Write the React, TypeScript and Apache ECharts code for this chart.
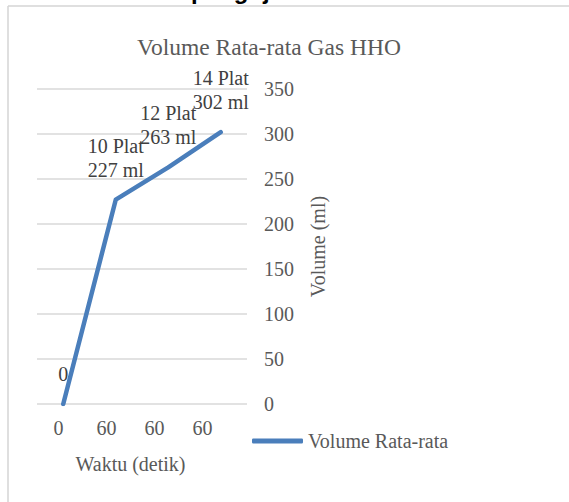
import React, { useEffect, useRef } from "react";
import * as echarts from "echarts";

const categories = ["0", "60", "60", "60"];
const volumes = [0, 227, 263, 302];
const plates: (number | null)[] = [null, 10, 12, 14];
const yTicks = { min: 0, max: 350, interval: 50 };

const SERIF = "Liberation Serif";
const GRAY = "#595959";

export default function App() {
  const ref = useRef<HTMLDivElement>(null);
  useEffect(() => {
    if (!ref.current) return;
    const chart = echarts.init(ref.current, null, { renderer: "svg" });
    chart.setOption({
      animation: false,
      backgroundColor: "#ffffff",
      textStyle: { fontFamily: SERIF },
      title: {
        text: "Volume Rata-rata Gas HHO",
        left: 132,
        top: 30,
        textStyle: { fontFamily: SERIF, fontSize: 23.5, fontWeight: "normal", color: GRAY },
      },
      legend: {
        data: ["Volume Rata-rata"],
        left: 252,
        top: 431,
        padding: 0,
        itemWidth: 51,
        itemHeight: 5,
        icon: "roundRect",
        textStyle: { fontFamily: SERIF, fontSize: 20, color: GRAY },
      },
      grid: [
        { left: 37, top: 89, width: 210, height: 315 },
        { left: 34.6, top: 89, width: 192, height: 315 },
      ],
      xAxis: [
        {
          type: "category",
          gridIndex: 0,
          data: categories,
          boundaryGap: true,
          axisLine: { show: false },
          axisTick: { show: false },
          axisLabel: { show: false },
        },
        {
          type: "category",
          gridIndex: 1,
          data: categories,
          boundaryGap: true,
          axisLine: { show: false },
          axisTick: { show: false },
          axisLabel: { show: true, margin: 14, fontFamily: SERIF, fontSize: 20, color: GRAY },
        },
      ],
      yAxis: [
        {
          type: "value",
          gridIndex: 0,
          position: "right",
          min: yTicks.min,
          max: yTicks.max,
          interval: yTicks.interval,
          axisLine: { show: false },
          axisTick: { show: false },
          splitLine: { lineStyle: { color: "#d9d9d9", width: 1.5 } },
          axisLabel: { margin: 17, fontFamily: SERIF, fontSize: 20, color: GRAY },
          name: "Volume (ml)",
          nameLocation: "middle",
          nameRotate: 90,
          nameGap: 61,
          nameTextStyle: { fontFamily: SERIF, fontSize: 20, color: GRAY },
        },
        { type: "value", gridIndex: 1, show: false, min: 0, max: 350 },
      ],
      series: [
        {
          name: "Volume Rata-rata",
          type: "line",
          xAxisIndex: 0,
          yAxisIndex: 0,
          data: volumes,
          symbol: "circle",
          symbolSize: 0.1,
          showSymbol: true,
          color: "#4a7ebb",
          itemStyle: { color: "#4a7ebb" },
          lineStyle: { color: "#4a7ebb", width: 4.5, cap: "round", join: "round" },
          label: {
            show: true,
            position: "top",
            distance: 18,
            fontFamily: SERIF,
            fontSize: 20,
            lineHeight: 24,
            color: "#404040",
            formatter: (p: any) => {
              const n = plates[p.dataIndex];
              return n ? `${n} Plat\n${p.value} ml` : `${p.value}`;
            },
          },
        },
      ],
      graphic: [
        {
          type: "line",
          shape: { x1: 8, y1: 6, x2: 569, y2: 6 },
          style: { stroke: "#d4d4d4", lineWidth: 1.5 },
          silent: true,
        },
        {
          type: "line",
          shape: { x1: 8, y1: 6, x2: 8, y2: 502 },
          style: { stroke: "#d4d4d4", lineWidth: 1.5 },
          silent: true,
        },
        {
          type: "text",
          x: 191,
          y: -9.4,
          style: {
            text: "pengujian",
            fontFamily: "Liberation Sans",
            fontWeight: "bold",
            fontSize: 24,
            fill: "#000000",
            verticalAlign: "middle",
          },
          silent: true,
        },
        {
          type: "text",
          x: 130.5,
          y: 464,
          style: {
            text: "Waktu (detik)",
            fontFamily: SERIF,
            fontSize: 20,
            fill: GRAY,
            align: "center",
            verticalAlign: "middle",
          },
          silent: true,
        },
      ],
    });
    return () => chart.dispose();
  }, []);
  return (
    <div
      ref={ref}
      style={{ position: "fixed", left: 0, top: 0, width: 569, height: 502 }}
    />
  );
}
